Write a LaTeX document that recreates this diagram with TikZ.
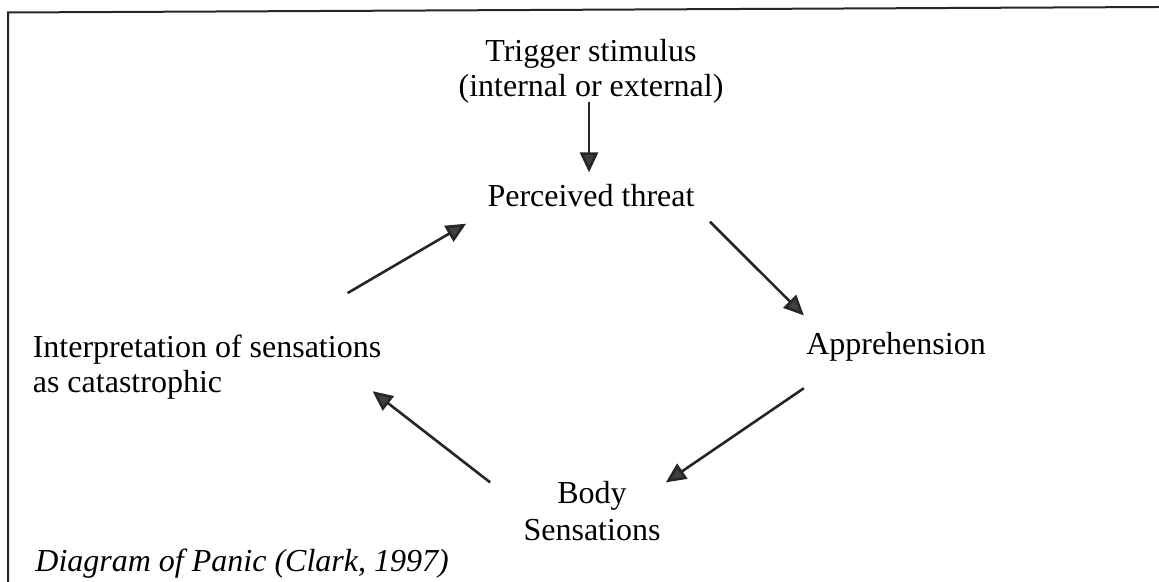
\documentclass[tikz,border=0pt]{standalone}
\usepackage{fontspec}
\setmainfont{Liberation Serif}
\usetikzlibrary{arrows.meta, positioning}

\tikzset{
  stage/.style={inner sep=0pt, align=center, anchor=base},
  link/.style={->, line width=1.3pt, draw=black!85}
}

\begin{document}
\begin{tikzpicture}[>={Triangle[length=10pt, width=9pt, fill=black!75]}, x=.5pt, y=-.5pt, font=\fontsize{16}{17.5}\selectfont]
\useasboundingbox (0,0) rectangle (1159,582);
\draw[line width=1pt, black!85] (8,582) -- (8,12.5) -- (1159,7);
%
\node[stage] (trigger) at (591,97) {Trigger stimulus\\(internal or external)};
\node[stage] (threat) at (591,207) {Perceived threat};
\node[stage] (appre) at (896,354) {Apprehension};
\node[stage] (body) at (592,540) {Body\\[1pt]Sensations};
\node[stage, align=left] (interp) at (207,392) {Interpretation of sensations\\as catastrophic};
\node[inner sep=0pt, anchor=base west, font=\fontsize{16}{17.5}\selectfont\itshape] (caption) at (35,571) {Diagram of Panic (Clark, 1997)};
%
\draw[link] ([shift={(-2,-2)}]trigger.south) -- ([shift={(-2,-12)}]threat.north);
\draw[link] ([shift={(15,14)}]threat.south east) -- ([shift={(-2,-16)}]appre.north west);
\draw[link] ([shift={(-2,27)}]appre.south west) -- ([shift={(5,2)}]body.north east);
\draw[link] ([shift={(-33,2)}]body.north west) -- ([shift={(-9,-8)}]interp.south east);
\draw[link] ([shift={(-34,-41)}]interp.north east) -- ([shift={(-21,16)}]threat.south west);
\end{tikzpicture}
\end{document}
